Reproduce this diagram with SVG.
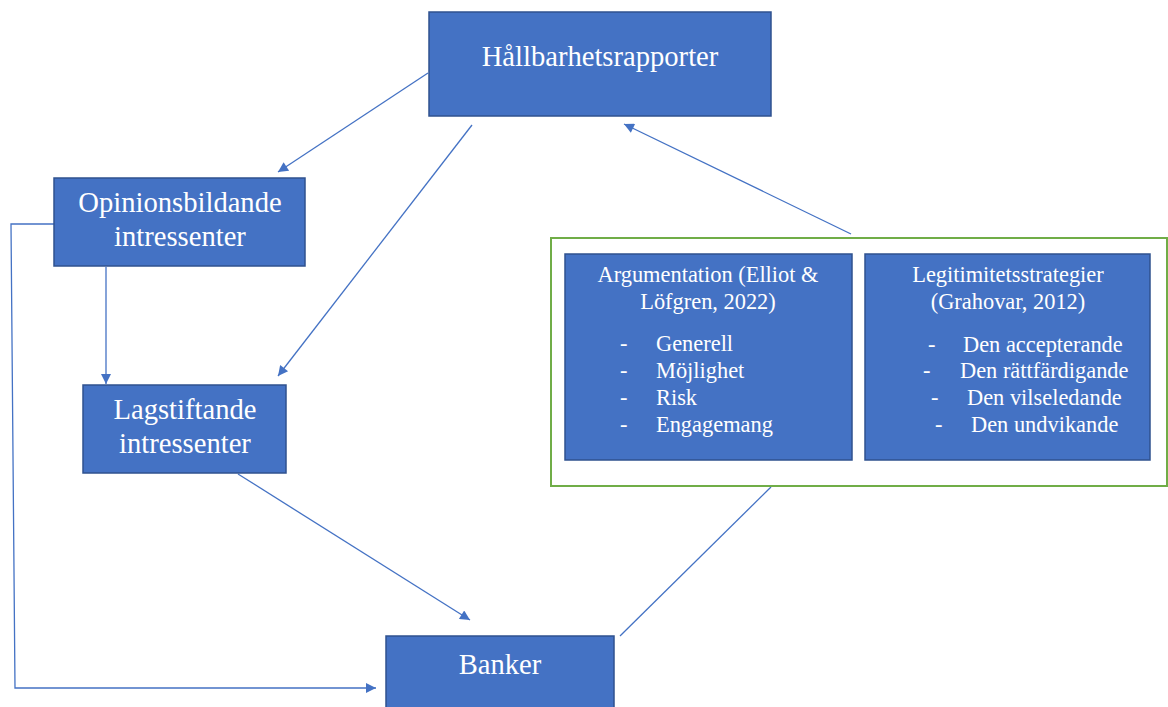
<svg xmlns="http://www.w3.org/2000/svg" width="1168" height="707" viewBox="0 0 1168 707">
<style>
.box{fill:#4472C4;stroke:#2F528F;stroke-width:1.5}
text{font-family:'Liberation Serif', 'Times New Roman', Times, serif;fill:#fff}
.t{font-size:28.6px;text-anchor:middle}
.s{font-size:22.4px}
.c{text-anchor:middle}
.ln{stroke:#4472C4;stroke-width:1.3;fill:none}
</style>
<defs>
<marker id="ah" viewBox="0 0 10 10" refX="10" refY="5" markerWidth="13" markerHeight="10" markerUnits="userSpaceOnUse" orient="auto">
<path d="M0,0 L10,5 L0,10 z" fill="#4472C4"/>
</marker>
</defs>
<rect width="1168" height="707" fill="#fff"/>
<g id="connectors">
<line class="ln" x1="428" y1="73" x2="278" y2="172" marker-end="url(#ah)"/>
<line class="ln" x1="472" y1="125" x2="278" y2="376" marker-end="url(#ah)"/>
<line class="ln" x1="106" y1="267" x2="106" y2="384" marker-end="url(#ah)"/>
<line class="ln" x1="238" y1="474" x2="470" y2="620" marker-end="url(#ah)"/>
<polyline class="ln" points="54,224 11,224 15,688 376,688" marker-end="url(#ah)"/>
<line class="ln" x1="620" y1="636" x2="771" y2="487"/>
<line class="ln" x1="851" y1="234" x2="624" y2="124" marker-end="url(#ah)"/>
</g>
<g id="hallbarhetsrapporter">
<rect class="box" x="429" y="12" width="342" height="104"/>
<text class="t" x="600" y="66">Hållbarhetsrapporter</text>
</g>
<g id="opinionsbildande">
<rect class="box" x="54" y="178" width="251" height="88"/>
<text class="t" x="180" y="212">Opinionsbildande</text>
<text class="t" x="180" y="246">intressenter</text>
</g>
<g id="lagstiftande">
<rect class="box" x="83" y="385" width="203" height="88"/>
<text class="t" x="185" y="419">Lagstiftande</text>
<text class="t" x="185" y="453">intressenter</text>
</g>
<g id="banker">
<rect class="box" x="386" y="636" width="228" height="80"/>
<text class="t" x="500" y="674">Banker</text>
</g>
<g id="strategier">
<rect x="551" y="238" width="616" height="248" fill="none" stroke="#70AD47" stroke-width="2"/>
<g id="argumentation">
<rect class="box" x="565" y="254" width="287" height="206"/>
<text class="s c" x="708" y="282">Argumentation (Elliot &amp;</text>
<text class="s c" x="708" y="309">Löfgren, 2022)</text>
<text class="s" x="620" y="351">-</text><text class="s" x="656" y="351">Generell</text>
<text class="s" x="620" y="378">-</text><text class="s" x="656" y="378">Möjlighet</text>
<text class="s" x="620" y="405">-</text><text class="s" x="656" y="405">Risk</text>
<text class="s" x="620" y="432">-</text><text class="s" x="656" y="432">Engagemang</text>
</g>
<g id="legitimitet">
<rect class="box" x="865" y="254" width="285" height="206"/>
<text class="s c" x="1008" y="282">Legitimitetsstrategier</text>
<text class="s c" x="1008" y="309">(Grahovar, 2012)</text>
<text class="s" x="928" y="352">-</text><text class="s" x="963" y="352">Den accepterande</text>
<text class="s" x="923" y="378">-</text><text class="s" x="960" y="378">Den rättfärdigande</text>
<text class="s" x="931" y="405">-</text><text class="s" x="967" y="405">Den vilseledande</text>
<text class="s" x="935" y="432">-</text><text class="s" x="971" y="432">Den undvikande</text>
</g>
</g>
</svg>
